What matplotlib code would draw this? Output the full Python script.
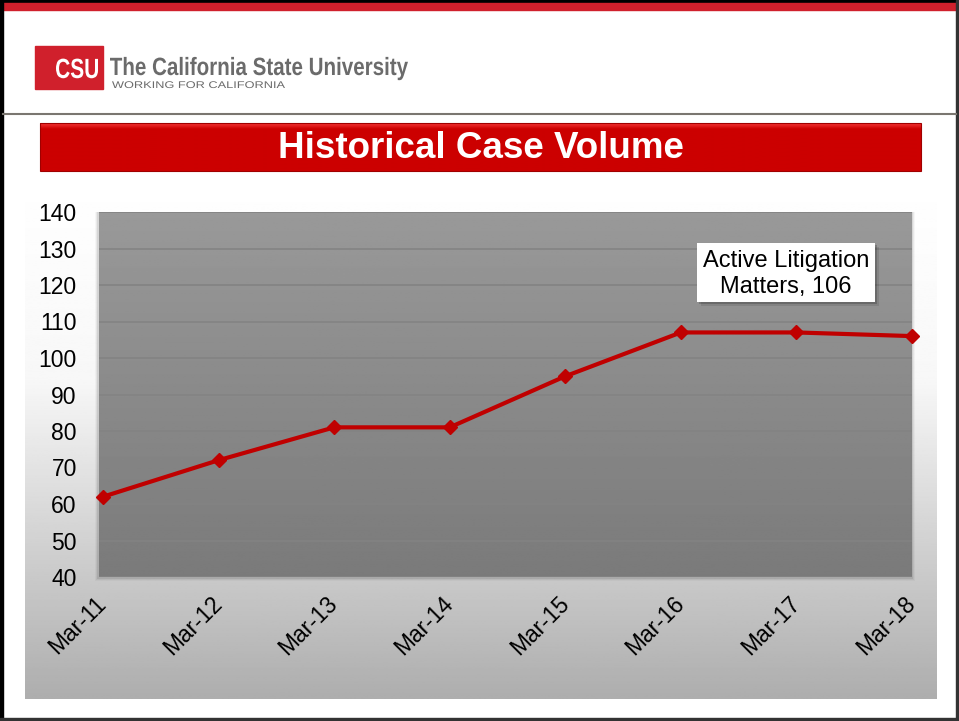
import numpy as np
import matplotlib
matplotlib.use("Agg")
import matplotlib.pyplot as plt
from matplotlib.patches import Rectangle, PathPatch
from matplotlib.textpath import TextPath
from matplotlib.font_manager import FontProperties
from matplotlib.transforms import Affine2D

plt.rcParams['font.family'] = ['Liberation Sans', 'DejaVu Sans']

# data
months = ["Mar-11", "Mar-12", "Mar-13", "Mar-14", "Mar-15", "Mar-16", "Mar-17", "Mar-18"]
cases = [62, 72, 81, 81, 95, 107, 107, 106]
y_ticks = [40, 50, 60, 70, 80, 90, 100, 110, 120, 130, 140]
label_text = "Active Litigation\nMatters, 106"

W, H = 959, 721
fig = plt.figure(figsize=(W / 100, H / 100), dpi=100)
fig.patch.set_facecolor("white")

# background axes in pixel coords (y down)
bg = fig.add_axes([0, 0, 1, 1])
bg.set_xlim(0, W)
bg.set_ylim(H, 0)
bg.axis("off")


def fitted_text(s, x0, x1, base, cap, color, bold=True):
    # squeeze a text path into a box: width x0..x1, cap height 'cap', baseline 'base'
    fp = FontProperties(family="Liberation Sans", weight="bold" if bold else "normal")
    tp = TextPath((0, 0), s, size=100, prop=fp)
    ext = tp.get_extents()
    sx = (x1 - x0) / ext.width
    sy = cap / 72.0
    tr = Affine2D().translate(-ext.x0, 0).scale(sx, -sy).translate(x0, base)
    bg.add_patch(PathPatch(tr.transform_path(tp), color=color, lw=0, zorder=6))


# outer slide frame
bg.add_patch(Rectangle((0, 0), W, 3, color="black", zorder=5))
bg.add_patch(Rectangle((3, 3), W - 3, 7, color="#d0202c", zorder=5))
bg.add_patch(Rectangle((0, 0), 3, H, color="black", zorder=5))
bg.add_patch(Rectangle((956, 0), 3, H, color="#333333", zorder=5))
bg.add_patch(Rectangle((0, 718), W, 3, color="#333333", zorder=5))
bg.plot([3, 956], [114, 114], color="#7a7670", lw=1.5, zorder=5)

# logo
bg.add_patch(Rectangle((35, 46), 68, 43, color="#d0202c", zorder=5))
fitted_text("CSU", 56, 98, 78, 20, "white")
fitted_text("The California State University", 110, 408, 75, 18, "#6b6b6b")
fitted_text("WORKING FOR CALIFORNIA", 112, 285, 88, 7, "#6b6b6b", bold=False)

# title banner
ban = np.linspace(0, 1, 60)[:, None]
ban_col = np.interp(ban, [0, 0.12, 1], [0, 1, 1])
ban_img = np.dstack([0.80 + 0.15 * (1 - ban_col), 0.0 + 0.2 * (1 - ban_col),
                     0.0 + 0.2 * (1 - ban_col)])
bg.imshow(ban_img, extent=(40, 921, 171, 123), aspect="auto", zorder=3)
bg.add_patch(Rectangle((40, 123), 881, 48, fill=False, ec="#a00000", lw=0.8, zorder=4))
bg.text(481, 149, "Historical Case Volume", color="white", fontsize=26.5,
        fontweight="bold", ha="center", va="center", zorder=6)

# chart surround gradient
rows = np.linspace(175, 699, 300)
vals = np.interp(rows, [175, 380, 577, 699], [1.0, 0.97, 0.79, 0.68])
grad = np.repeat(vals[:, None], 2, axis=1)
bg.imshow(grad, cmap="gray", vmin=0, vmax=1, extent=(25, 937, 699, 175),
          aspect="auto", zorder=1)

# plot area shadow
for i, a in enumerate([0.08, 0.05, 0.03]):
    bg.add_patch(Rectangle((97 - i, 212), 816 + 2 * i, 367 + i,
                           color="black", alpha=a, lw=0, zorder=2))

# main axes
L, R, T, B = 99, 912, 212, 577
ax = fig.add_axes([L / W, 1 - B / H, (R - L) / W, (B - T) / H])
ax.set_facecolor("none")
ax.set_zorder(3)
pg = np.linspace(0.60, 0.48, 200)[:, None]
ax.imshow(np.repeat(pg, 2, axis=1), cmap="gray", vmin=0, vmax=1,
          extent=(0, 1, 0, 1), transform=ax.transAxes, aspect="auto", zorder=0)

x = np.arange(len(months))
ax.plot(x, cases, color="#c00000", lw=3.0, marker="D", markersize=7.5,
        markeredgecolor="#c00000", zorder=4, clip_on=False)

ax.set_xlim(-0.035, 7.0)
ax.set_ylim(40, 140)
ax.set_yticks(y_ticks)
ax.set_xticks(x)
ax.set_xticklabels(months, rotation=45, ha="right", va="center", rotation_mode="anchor")
ax.tick_params(axis="both", length=0, labelsize=16.5, colors="black")
ax.tick_params(axis="y", pad=16)
ax.tick_params(axis="x", pad=17)
ax.grid(axis="y", color="#838383", lw=1.2, zorder=1)
ax.set_axisbelow(True)
for s in ax.spines.values():
    s.set_visible(False)

# data label box with shadow
bx0, bx1 = (697 - L) / (R - L), (875 - L) / (R - L)
by0, by1 = (B - 302) / (B - T), (B - 243) / (B - T)
for i, a in enumerate([0.18, 0.10]):
    d = (2 + 2 * i) / (R - L)
    ax.add_patch(Rectangle((bx0 + d, by0 - d * 2.2), bx1 - bx0, by1 - by0,
                           transform=ax.transAxes, color="black", alpha=a, lw=0, zorder=5))
ax.add_patch(Rectangle((bx0, by0), bx1 - bx0, by1 - by0, transform=ax.transAxes,
                       color="white", lw=0, zorder=6))
ax.text((bx0 + bx1) / 2, (by0 + by1) / 2 - 0.005, label_text, transform=ax.transAxes,
        ha="center", va="center", fontsize=17, linespacing=1.25, zorder=7)

fig.savefig("out.png", dpi=100)
